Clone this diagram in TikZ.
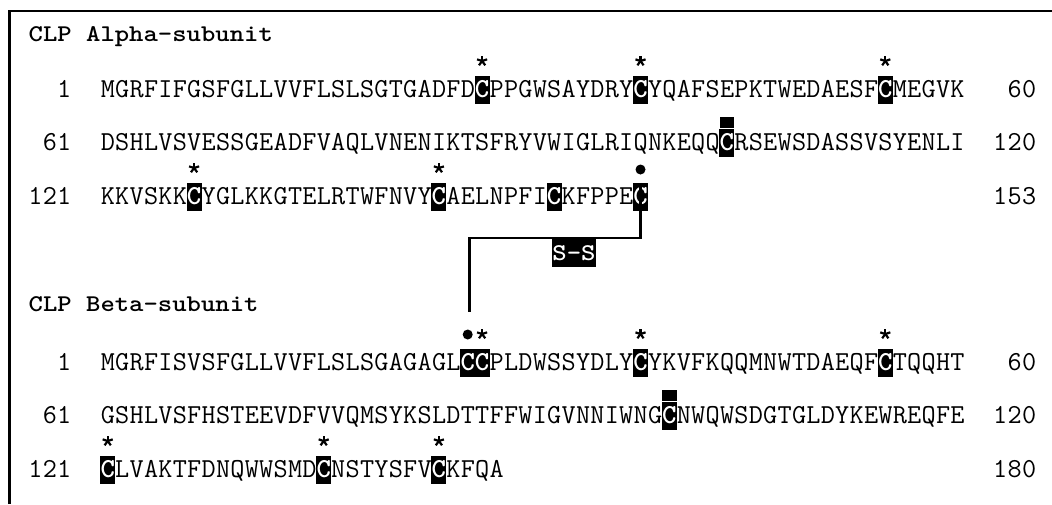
\documentclass[tikz,border=0pt]{standalone}
\usepackage{graphicx}
\newcommand\seqfont{\ttfamily\fontsize{27.43}{30}\selectfont}
\newcommand\seqbold{\ttfamily\bfseries\fontsize{27.43}{30}\selectfont}
\newcommand\ttlfont{\ttfamily\bfseries\fontsize{24}{28}\selectfont}
% every character in a cell of fixed width
\newcommand\gridchars[1]{\gridloop#1\relax}
\def\gridloop#1{\ifx#1\relax\else\makebox[14.4pt]{#1}\expandafter\gridloop\fi}
\tikzset{
  seqtxt/.style={font=\seqfont, inner sep=0pt, anchor=base west},
  numl/.style={font=\seqfont, inner sep=0pt, anchor=base east},
  ttl/.style={font=\ttlfont, inner sep=0pt, anchor=base west},
  cbox/.style={fill=black, text=white, font=\seqbold, inner sep=0pt,
    minimum width=15pt, text height=21pt, text depth=7pt, anchor=base},
  sqm/.style={fill=black, inner sep=0pt, minimum width=14.4pt, minimum height=11pt},
  dotm/.style={circle, fill=black, inner sep=0pt, minimum size=10pt},
  ssbox/.style={fill=black, text=white, font=\ttlfont, inner sep=0pt,
    minimum width=44pt, minimum height=29pt},
  conn/.style={line width=2.3pt},
  astk/.pic={\foreach \a in {270,342,54,126,198} \draw[line width=2.2pt] (0,0) -- (\a:5.3);}
}
\begin{document}
\begin{tikzpicture}[x=1pt,y=-1pt]
\useasboundingbox (0,0) rectangle (1052,504);
% frame
\draw[line width=2.3pt] (9.5,504) -- (9.5,11) -- (1052,11);

% ---------- Alpha ----------
\node[ttl] (ta) at (28.5,41) {\scalebox{1.14}[1]{CLP Alpha-subunit}};
\node[numl] (an1) at (71.7,97) {\gridchars{1}};
\node[seqtxt] (as1) at (100.5,97) {\gridchars{MGRFIFGSFGLLVVFLSLSGTGADFDCPPGWSAYDRYCYQAFSEPKTWEDAESFCMEGVK}};
\node[numl] (ae1) at (1036.5,97) {\gridchars{60}};
\node[numl] (an2) at (71.7,150) {\gridchars{61}};
\node[seqtxt] (as2) at (100.5,150) {\gridchars{DSHLVSVESSGEADFVAQLVNENIKTSFRYVWIGLRIQNKEQQCRSEWSDASSVSYENLI}};
\node[numl] (ae2) at (1036.5,150) {\gridchars{120}};
\node[numl] (an3) at (71.7,204) {\gridchars{121}};
\node[seqtxt] (as3) at (100.5,204) {\gridchars{KKVSKKCYGLKKGTELRTWFNVYCAELNPFICKFPPEC}};
\node[numl] (ae3) at (1036.5,204) {\gridchars{153}};

\node[cbox] (aC27) at (482.1,97) {C};
\node[cbox] (aC38) at (640.5,97) {C};
\node[cbox] (aC55) at (885.3,97) {C};
\node[cbox] (aC44) at (726.9,150) {C};
\node[cbox] (aC7)  at (194.1,204) {C};
\node[cbox] (aC24) at (438.9,204) {C};
\node[cbox] (aC32) at (554.1,204) {C};
\node[cbox] (aC38b) at (640.5,204) {C};

\pic at (482.1,61) {astk};
\pic at (640.5,61) {astk};
\pic at (885.3,61) {astk};
\node[sqm] (aSq) at (726.9,122.5) {};
\pic at (194.1,168) {astk};
\pic at (438.9,168) {astk};
\node[dotm] (aDot) at (640.5,169.5) {};

% ---------- Beta ----------
\node[ttl] (tb) at (28.5,311) {\scalebox{1.14}[1]{CLP Beta-subunit}};
\node[numl] (bn1) at (71.7,370) {\gridchars{1}};
\node[seqtxt] (bs1) at (100.5,370) {\gridchars{MGRFISVSFGLLVVFLSLSGAGAGLCCPLDWSSYDLYCYKVFKQQMNWTDAEQFCTQQHT}};
\node[numl] (be1) at (1036.5,370) {\gridchars{60}};
\node[numl] (bn2) at (71.7,423) {\gridchars{61}};
\node[seqtxt] (bs2) at (100.5,423) {\gridchars{GSHLVSFHSTEEVDFVVQMSYKSLDTTFFWIGVNNIWNGCNWQWSDGTGLDYKEWREQFE}};
\node[numl] (be2) at (1036.5,423) {\gridchars{120}};
\node[numl] (bn3) at (71.7,477) {\gridchars{121}};
\node[seqtxt] (bs3) at (100.5,477) {\gridchars{CLVAKTFDNQWWSMDCNSTYSFVCKFQA}};
\node[numl] (be3) at (1036.5,477) {\gridchars{180}};

\node[cbox] (bC26) at (467.7,370) {C};
\node[cbox] (bC27) at (482.1,370) {C};
\node[cbox] (bC38) at (640.5,370) {C};
\node[cbox] (bC55) at (885.3,370) {C};
\node[cbox] (bC40) at (669.3,423) {C};
\node[cbox] (bC1)  at (107.7,477) {C};
\node[cbox] (bC16) at (323.7,477) {C};
\node[cbox] (bC24) at (438.9,477) {C};

\node[dotm] (bDot) at (467.7,334.5) {};
\pic at (482.1,334) {astk};
\pic at (640.5,334) {astk};
\pic at (885.3,334) {astk};
\node[sqm] (bSq) at (669.3,395.5) {};
\pic at (107.7,441) {astk};
\pic at (323.7,441) {astk};
\pic at (438.9,441) {astk};

% ---------- disulfide link ----------
\coordinate (jn) at (469.5,312);
\coordinate (sstop) at (574,238);
\draw[conn] (aC38b.north) |- (sstop) -| (jn);
\node[ssbox, anchor=north] (ss) at (sstop) {\scalebox{1.14}[1]{S-S}};
\end{tikzpicture}
\end{document}
